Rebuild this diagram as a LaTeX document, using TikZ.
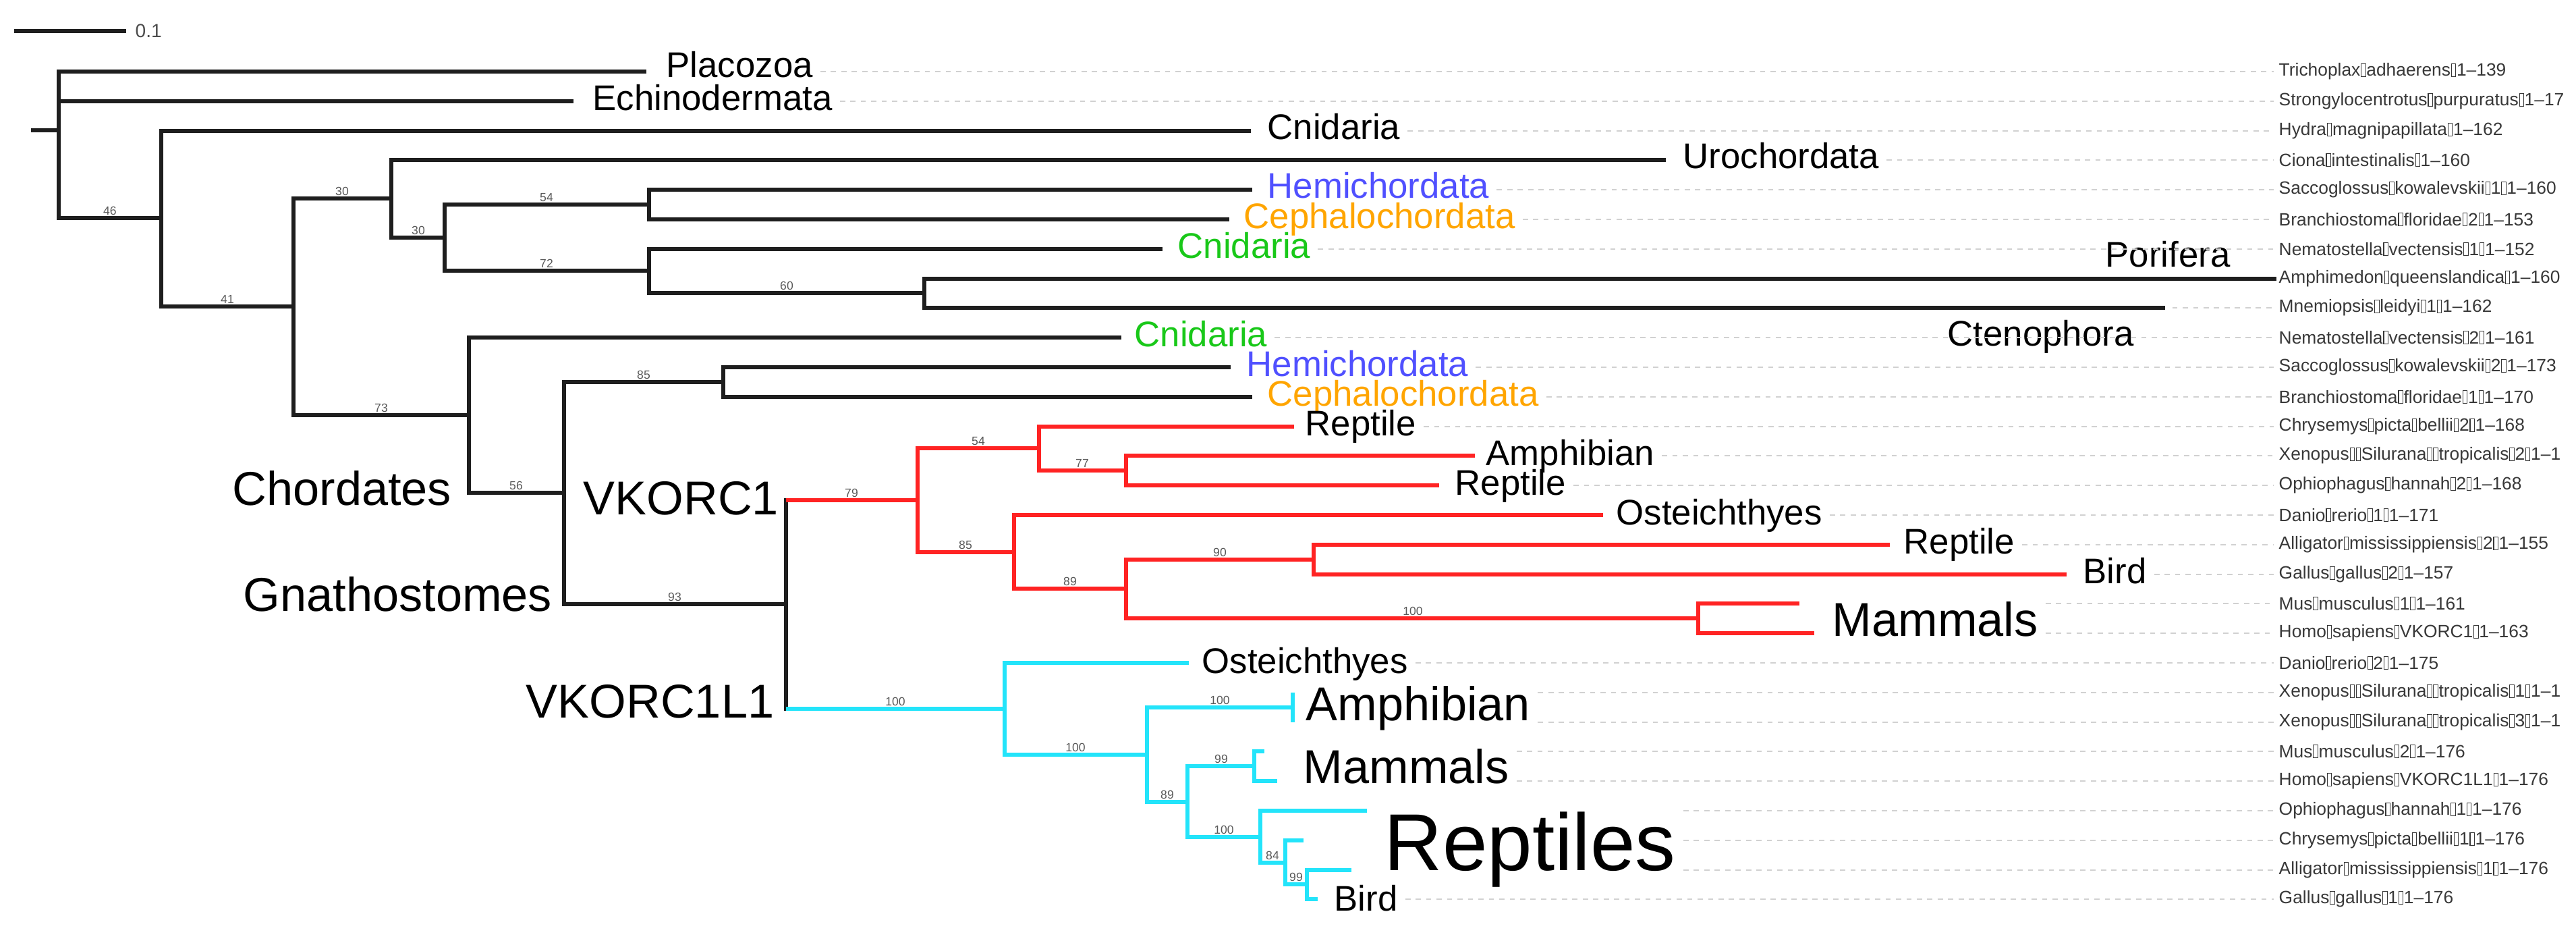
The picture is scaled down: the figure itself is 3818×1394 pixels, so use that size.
\documentclass[tikz,border=0pt]{standalone}
\usepackage{fontspec}
\setmainfont{Liberation Sans}

\definecolor{branch}{RGB}{30,30,30}
\definecolor{vkred}{RGB}{255,35,35}
\definecolor{vkcyan}{RGB}{35,228,250}
\definecolor{hemiblue}{RGB}{80,80,255}
\definecolor{cephorange}{RGB}{255,165,0}
\definecolor{cnidgreen}{RGB}{25,200,25}

% the empty glyph boxes of the tip names
\newcommand{\gl}{\kern.03em{\fboxsep0pt\fboxrule.04em\fbox{\rule{0pt}{.68em}\rule{.2em}{0pt}}}\kern.03em}

\tikzset{
  br/.style={draw=branch, line width=1.45pt, line join=miter},
  vk/.style={draw=vkred, line width=1.45pt, line join=miter},
  vkl/.style={draw=vkcyan, line width=1.45pt, line join=miter},
  leader/.style={draw=black!18, line width=0.8pt, dash pattern=on 2.2pt off 2.2pt,
    shorten <=3pt, shorten >=2pt},
  tip/.style={anchor=west, inner sep=0pt, text=black!78, font=\fontsize{7.5}{9}\selectfont},
  clade/.style={anchor=base west, inner sep=0pt, font=\fontsize{15}{18}\selectfont},
  group/.style={anchor=base west, inner sep=0pt, font=\fontsize{20}{24}\selectfont},
  boot/.style={anchor=south, inner sep=1pt, text=black!65, font=\fontsize{5}{6}\selectfont},
}

\begin{document}
\begin{tikzpicture}[x=0.01cm, y=-0.01cm]
  \useasboundingbox (0,0) rectangle (3818,1394);

  % scale bar
  \coordinate (sb0) at (21,46);
  \coordinate (sb1) at (187,46);
  \draw[br] (sb0) -- (sb1);
  \node[anchor=west, inner sep=0pt, text=black!70, font=\fontsize{8}{9}\selectfont] (sbl) at (200,46) {0.1};

  % internal nodes
  \coordinate (stub) at (46,193);
  \coordinate (root) at (87,193);
  \coordinate (n46) at (239,323);
  \coordinate (n41) at (435,454);
  \coordinate (n30a) at (580,294);
  \coordinate (n30b) at (659,352);
  \coordinate (n54a) at (962,303);
  \coordinate (n72) at (962,401);
  \coordinate (n60) at (1370,434);
  \coordinate (n73) at (695,615);
  \coordinate (n56) at (836,730);
  \coordinate (n85a) at (1072,566);
  \coordinate (n93) at (1165,895);
  \coordinate (n79) at (1360,741);
  \coordinate (n54r) at (1540,664);
  \coordinate (n77) at (1669,697);
  \coordinate (n85r) at (1503,818);
  \coordinate (n89r) at (1669,872);
  \coordinate (n90) at (1947,829);
  \coordinate (n100r) at (2517,916);
  \coordinate (c100a) at (1489,1050);
  \coordinate (c100b) at (1700,1118);
  \coordinate (c100c) at (1916,1048);
  \coordinate (c89) at (1760,1188);
  \coordinate (c99a) at (1859,1135);
  \coordinate (c100d) at (1868,1240);
  \coordinate (c84) at (1905,1278);
  \coordinate (c99b) at (1937,1310);

  % tips
  \coordinate (t0) at (958,106);
  \coordinate (t1) at (850,150);
  \coordinate (t2) at (1854,194);
  \coordinate (t3) at (2469,237);
  \coordinate (t4) at (1856,281);
  \coordinate (t5) at (1822,325);
  \coordinate (t6) at (1723,369);
  \coordinate (t7) at (3374,413);
  \coordinate (t8) at (3209,456);
  \coordinate (t9) at (1662,500);
  \coordinate (t10) at (1824,544);
  \coordinate (t11) at (1856,588);
  \coordinate (t12) at (1918,632);
  \coordinate (t13) at (2186,675);
  \coordinate (t14) at (2133,719);
  \coordinate (t15) at (2376,763);
  \coordinate (t16) at (2801,807);
  \coordinate (t17) at (3063,851);
  \coordinate (t18) at (2667,894);
  \coordinate (t19) at (2689,938);
  \coordinate (t20) at (1762,982);
  \coordinate (t21) at (1916,1026);
  \coordinate (t22) at (1916,1070);
  \coordinate (t23) at (1874,1113);
  \coordinate (t24) at (1893,1157);
  \coordinate (t25) at (2026,1201);
  \coordinate (t26) at (1932,1245);
  \coordinate (t27) at (2003,1289);
  \coordinate (t28) at (1953,1332);

  % black part of the tree
  \draw[br] (stub) -- (root);
  \draw[br] (root) |- (t0) (root) |- (t1) (root) |- (n46);
  \draw[br] (n46) |- (t2) (n46) |- (n41);
  \draw[br] (n41) |- (n30a) (n41) |- (n73);
  \draw[br] (n30a) |- (t3) (n30a) |- (n30b);
  \draw[br] (n30b) |- (n54a) (n30b) |- (n72);
  \draw[br] (n54a) |- (t4) (n54a) |- (t5);
  \draw[br] (n72) |- (t6) (n72) |- (n60);
  \draw[br] (n60) |- (t7) (n60) |- (t8);
  \draw[br] (n73) |- (t9) (n73) |- (n56);
  \draw[br] (n56) |- (n85a) (n56) |- (n93);
  \draw[br] (n85a) |- (t10) (n85a) |- (t11);
  \draw[br, line cap=rect] (n93 |- n79) -- (n93 |- c100a);

  % VKORC1
  \draw[vk] (n93 |- n79) -- (n79);
  \draw[vk] (n79) |- (n54r) (n79) |- (n85r);
  \draw[vk] (n54r) |- (t12) (n54r) |- (n77);
  \draw[vk] (n77) |- (t13) (n77) |- (t14);
  \draw[vk] (n85r) |- (t15) (n85r) |- (n89r);
  \draw[vk] (n89r) |- (n90) (n89r) |- (n100r);
  \draw[vk] (n90) |- (t16) (n90) |- (t17);
  \draw[vk] (n100r) |- (t18) (n100r) |- (t19);

  % VKORC1L1
  \draw[vkl] (n93 |- c100a) -- (c100a);
  \draw[vkl] (c100a) |- (t20) (c100a) |- (c100b);
  \draw[vkl] (c100b) |- (c100c) (c100b) |- (c89);
  \draw[vkl] (c100c) |- (t21) (c100c) |- (t22);
  \draw[vkl] (c89) |- (c99a) (c89) |- (c100d);
  \draw[vkl] (c99a) |- (t23) (c99a) |- (t24);
  \draw[vkl] (c100d) |- (t25) (c100d) |- (c84);
  \draw[vkl] (c84) |- (t26) (c84) |- (c99b);
  \draw[vkl] (c99b) |- (t27) (c99b) |- (t28);

  % bootstrap values
  \node[boot] (b1) at (163,323) {46};
  \node[boot] (b2) at (337,454) {41};
  \node[boot] (b3) at (507,294) {30};
  \node[boot] (b4) at (620,352) {30};
  \node[boot] (b5) at (810,303) {54};
  \node[boot] (b6) at (810,401) {72};
  \node[boot] (b7) at (1166,434) {60};
  \node[boot] (b8) at (565,615) {73};
  \node[boot] (b9) at (765,730) {56};
  \node[boot] (b10) at (954,566) {85};
  \node[boot] (b11) at (1000,895) {93};
  \node[boot] (b12) at (1262,741) {79};
  \node[boot] (b13) at (1450,664) {54};
  \node[boot] (b14) at (1604,697) {77};
  \node[boot] (b15) at (1431,818) {85};
  \node[boot] (b16) at (1586,872) {89};
  \node[boot] (b17) at (1808,829) {90};
  \node[boot] (b18) at (2094,916) {100};
  \node[boot] (b19) at (1327,1050) {100};
  \node[boot] (b20) at (1594,1118) {100};
  \node[boot] (b21) at (1808,1048) {100};
  \node[boot] (b22) at (1730,1188) {89};
  \node[boot] (b23) at (1810,1135) {99};
  \node[boot] (b24) at (1814,1240) {100};
  \node[boot] (b25) at (1886,1278) {84};
  \node[boot] (b26) at (1921,1310) {99};

  % group labels
  \node[clade] (lPla) at (987,115) {Placozoa};
  \node[clade] (lEch) at (878,163) {Echinodermata};
  \node[clade] (lCni1) at (1878,207) {Cnidaria};
  \node[clade] (lUro) at (2494,250) {Urochordata};
  \node[clade, text=hemiblue] (lHem1) at (1878,294) {Hemichordata};
  \node[clade, text=cephorange] (lCep1) at (1843,338) {Cephalochordata};
  \node[clade, text=cnidgreen] (lCni2) at (1745,382) {Cnidaria};
  \node[clade] (lPor) at (3120,395) {Porifera};
  \node[clade] (lCte) at (2886,512) {Ctenophora};
  \node[clade, text=cnidgreen] (lCni3) at (1681,513) {Cnidaria};
  \node[clade, text=hemiblue] (lHem2) at (1847,557) {Hemichordata};
  \node[clade, text=cephorange] (lCep2) at (1878,601) {Cephalochordata};
  \node[clade] (lRep1) at (1934,645) {Reptile};
  \node[clade] (lAmp1) at (2202,689) {Amphibian};
  \node[clade] (lRep2) at (2156,733) {Reptile};
  \node[clade] (lOst1) at (2395,777) {Osteichthyes};
  \node[clade] (lRep3) at (2821,820) {Reptile};
  \node[clade] (lBir1) at (3087,864) {Bird};
  \node[group] (lMam1) at (2715,942) {Mammals};
  \node[group] (lChord) at (344,748) {Chordates};
  \node[group] (lVk) at (864,762) {VKORC1};
  \node[group] (lGna) at (360,905) {Gnathostomes};
  \node[group, anchor=base east] (lVkl) at (1148,1063) {VKORC1L1};
  \node[clade] (lOst2) at (1781,997) {Osteichthyes};
  \node[group] (lAmp2) at (1935,1067) {Amphibian};
  \node[group] (lMam2) at (1931,1160) {Mammals};
  \node[anchor=base west, inner sep=0pt, font=\fontsize{34}{40}\selectfont] (lRept) at (2051,1289) {Reptiles};
  \node[clade] (lBir2) at (1977,1349) {Bird};

  % sequence names
  \node[tip] (s0) at (3377,106) {Trichoplax\gl adhaerens\gl 1--139};
  \node[tip] (s1) at (3377,150) {Strongylocentrotus\gl purpuratus\gl 1--17};
  \node[tip] (s2) at (3377,194) {Hydra\gl magnipapillata\gl 1--162};
  \node[tip] (s3) at (3377,237) {Ciona\gl intestinalis\gl 1--160};
  \node[tip] (s4) at (3377,281) {Saccoglossus\gl kowalevskii\gl 1\gl 1--160};
  \node[tip] (s5) at (3377,325) {Branchiostoma\gl floridae\gl 2\gl 1--153};
  \node[tip] (s6) at (3377,369) {Nematostella\gl vectensis\gl 1\gl 1--152};
  \node[tip] (s7) at (3377,413) {Amphimedon\gl queenslandica\gl 1--160};
  \node[tip] (s8) at (3377,456) {Mnemiopsis\gl leidyi\gl 1\gl 1--162};
  \node[tip] (s9) at (3377,500) {Nematostella\gl vectensis\gl 2\gl 1--161};
  \node[tip] (s10) at (3377,544) {Saccoglossus\gl kowalevskii\gl 2\gl 1--173};
  \node[tip] (s11) at (3377,588) {Branchiostoma\gl floridae\gl 1\gl 1--170};
  \node[tip] (s12) at (3377,632) {Chrysemys\gl picta\gl bellii\gl 2\gl 1--168};
  \node[tip] (s13) at (3377,675) {Xenopus\gl\gl Silurana\gl\gl tropicalis\gl 2\gl 1--1};
  \node[tip] (s14) at (3377,719) {Ophiophagus\gl hannah\gl 2\gl 1--168};
  \node[tip] (s15) at (3377,763) {Danio\gl rerio\gl 1\gl 1--171};
  \node[tip] (s16) at (3377,807) {Alligator\gl mississippiensis\gl 2\gl 1--155};
  \node[tip] (s17) at (3377,851) {Gallus\gl gallus\gl 2\gl 1--157};
  \node[tip] (s18) at (3377,894) {Mus\gl musculus\gl 1\gl 1--161};
  \node[tip] (s19) at (3377,938) {Homo\gl sapiens\gl VKORC1\gl 1--163};
  \node[tip] (s20) at (3377,982) {Danio\gl rerio\gl 2\gl 1--175};
  \node[tip] (s21) at (3377,1026) {Xenopus\gl\gl Silurana\gl\gl tropicalis\gl 1\gl 1--1};
  \node[tip] (s22) at (3377,1070) {Xenopus\gl\gl Silurana\gl\gl tropicalis\gl 3\gl 1--1};
  \node[tip] (s23) at (3377,1113) {Mus\gl musculus\gl 2\gl 1--176};
  \node[tip] (s24) at (3377,1157) {Homo\gl sapiens\gl VKORC1L1\gl 1--176};
  \node[tip] (s25) at (3377,1201) {Ophiophagus\gl hannah\gl 1\gl 1--176};
  \node[tip] (s26) at (3377,1245) {Chrysemys\gl picta\gl bellii\gl 1\gl 1--176};
  \node[tip] (s27) at (3377,1289) {Alligator\gl mississippiensis\gl 1\gl 1--176};
  \node[tip] (s28) at (3377,1332) {Gallus\gl gallus\gl 1\gl 1--176};

  % dotted leaders
  \draw[leader] (lPla.east |- s0) -- (s0.west);
  \draw[leader] (lEch.east |- s1) -- (s1.west);
  \draw[leader] (lCni1.east |- s2) -- (s2.west);
  \draw[leader] (lUro.east |- s3) -- (s3.west);
  \draw[leader] (lHem1.east |- s4) -- (s4.west);
  \draw[leader] (lCep1.east |- s5) -- (s5.west);
  \draw[leader] (lCni2.east |- s6) -- (s6.west);
  \draw[leader] (t8) -- (s8.west);
  \draw[leader] (lCni3.east |- s9) -- (s9.west);
  \draw[leader] (lHem2.east |- s10) -- (s10.west);
  \draw[leader] (lCep2.east |- s11) -- (s11.west);
  \draw[leader] (lRep1.east |- s12) -- (s12.west);
  \draw[leader] (lAmp1.east |- s13) -- (s13.west);
  \draw[leader] (lRep2.east |- s14) -- (s14.west);
  \draw[leader] (lOst1.east |- s15) -- (s15.west);
  \draw[leader] (lRep3.east |- s16) -- (s16.west);
  \draw[leader] (lBir1.east |- s17) -- (s17.west);
  \draw[leader] (lMam1.east |- s18) -- (s18.west);
  \draw[leader] (lMam1.east |- s19) -- (s19.west);
  \draw[leader] (lOst2.east |- s20) -- (s20.west);
  \draw[leader] (lAmp2.east |- s21) -- (s21.west);
  \draw[leader] (lAmp2.east |- s22) -- (s22.west);
  \draw[leader] (lMam2.east |- s23) -- (s23.west);
  \draw[leader] (lMam2.east |- s24) -- (s24.west);
  \draw[leader] (lRept.east |- s25) -- (s25.west);
  \draw[leader] (lRept.east |- s26) -- (s26.west);
  \draw[leader] (lRept.east |- s27) -- (s27.west);
  \draw[leader] (lBir2.east |- s28) -- (s28.west);
\end{tikzpicture}
\end{document}
